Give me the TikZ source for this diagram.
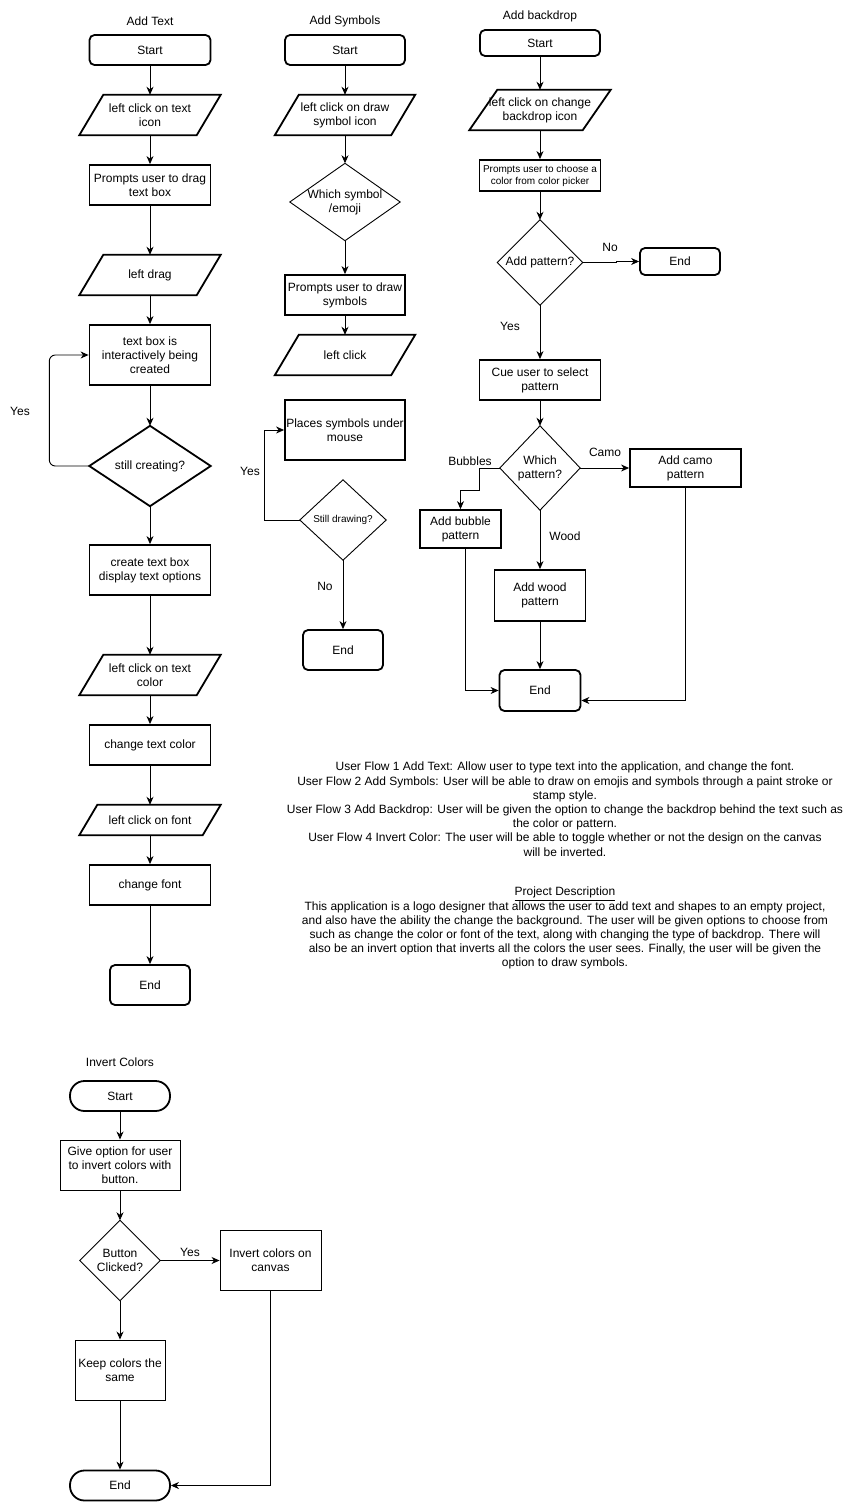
\documentclass[tikz,border=0pt]{standalone}
\usepackage{fontspec}
\setmainfont{Liberation Sans}
\usetikzlibrary{arrows.meta,calc}
\tikzset{
  ghost/.style={rectangle, inner sep=0pt, align=center},
  proc/.style={ghost, draw=black, line width=1.8pt},
  procthin/.style={ghost, draw=black, line width=0.9pt},
  term/.style={proc, rounded corners=5pt},
  stad/.style={proc, rounded corners=14.5pt},
  arr/.style={-{Stealth[length=8pt,width=7pt,inset=2.5pt]}, line width=0.9pt},
  lbl/.style={inner sep=0pt},
  every node/.style={font=\fontsize{12}{14}\selectfont}
}
\newcommand{\Para}[7]{%
  \node[ghost,minimum width=#4pt,minimum height=#5pt] (#1) at (#2,#3) {#7};
  \draw[line width=1.8pt,line join=miter] ([xshift=#6pt]#1.north west) -- (#1.north east) -- ([xshift=-#6pt]#1.south east) -- (#1.south west) -- cycle;}
\newcommand{\Dia}[7]{%
  \node[ghost,minimum width=#4pt,minimum height=#5pt] (#1) at (#2,#3) {#7};
  \draw[line width=#6pt,line join=miter] (#1.north) -- (#1.east) -- (#1.south) -- (#1.west) -- cycle;}
\begin{document}
\begin{tikzpicture}[x=1pt,y=-1pt]
\useasboundingbox (0,0) rectangle (851,1502);

% ---------------- Add Text ----------------
\node[lbl] (t1) at (150,21) {Add Text};
\node[term,minimum width=121pt,minimum height=30pt] (s1) at (150,50) {Start};
\Para{p1}{150}{115}{141}{40}{24}{left click on text\\icon}
\node[proc,minimum width=121pt,minimum height=40pt] (r1) at (150,185) {Prompts user to drag\\text box};
\Para{p2}{150}{275}{141}{40}{24}{left drag}
\node[proc,minimum width=121pt,minimum height=60pt] (r2) at (150,355) {text box is\\interactively being\\created};
\Dia{d1}{150}{466}{121}{80}{1.8}{still creating?}
\node[proc,minimum width=121pt,minimum height=50pt] (r3) at (150,570) {create text box\\display text options};
\Para{p3}{150}{675}{141}{40}{24}{left click on text\\color}
\node[proc,minimum width=121pt,minimum height=40pt] (r4) at (150,745) {change text color};
\Para{p4}{150}{820}{141}{30}{18}{left click on font}
\node[proc,minimum width=121pt,minimum height=40pt] (r5) at (150,885) {change font};
\node[term,minimum width=80pt,minimum height=40pt] (e1) at (150,985) {End};
\node[lbl] (y1) at (20,411) {Yes};

\draw[arr] (s1.south) -- (p1.north);
\draw[arr] (p1.south) -- (r1.north);
\draw[arr] (r1.south) -- (p2.north);
\draw[arr] (p2.south) -- (r2.north);
\draw[arr] (r2.south) -- (d1.north);
\draw[arr] (d1.south) -- (r3.north);
\draw[arr] (r3.south) -- (p3.north);
\draw[arr] (p3.south) -- (r4.north);
\draw[arr] (r4.south) -- (p4.north);
\draw[arr] (p4.south) -- (r5.north);
\draw[arr] (r5.south) -- (e1.north);
\draw[arr,rounded corners=6pt] (d1.west) -- ++(-40,0) |- (r2.west);

% ---------------- Add Symbols ----------------
\node[lbl] (t2) at (345,21) {Add Symbols};
\node[term,minimum width=120pt,minimum height=30pt] (s2) at (345,50) {Start};
\Para{p5}{345}{115}{140}{40}{24}{left click on draw\\symbol icon}
\Dia{d2}{345}{202}{110}{77}{0.9}{Which symbol\\/emoji}
\node[proc,minimum width=120pt,minimum height=40pt] (r6) at (345,295) {Prompts user to draw\\symbols};
\Para{p6}{345}{355}{140}{40}{24}{left click}
\node[proc,minimum width=120pt,minimum height=60pt] (r7) at (345,430) {Places symbols under\\mouse};
\Dia{d3}{343}{520}{86}{80}{0.9}{\fontsize{10}{12}\selectfont Still drawing?}
\node[term,minimum width=80pt,minimum height=40pt] (e2) at (343,650) {End};
\node[lbl] (y2) at (250,471) {Yes};
\node[lbl] (n2) at (325,586) {No};

\draw[arr] (s2.south) -- (p5.north);
\draw[arr] (p5.south) -- (d2.north);
\draw[arr] (d2.south) -- (r6.north);
\draw[arr] (r6.south) -- (p6.north);
\draw[arr] (d3.south) -- (e2.north);
\draw[arr] (d3.west) -- ++(-35,0) |- (r7.west);

% ---------------- Add backdrop ----------------
\node[lbl] (t3) at (540,16) {Add backdrop};
\node[term,minimum width=120pt,minimum height=26pt] (s3) at (540,43) {Start};
\Para{p7}{540}{110}{141}{40}{28}{left click on change\\backdrop icon}
\node[proc,minimum width=121pt,minimum height=31pt,font=\fontsize{10}{12}\selectfont] (r8) at (540,175.5) {Prompts user to choose a\\color from color picker};
\Dia{d4}{540}{262.5}{85}{85}{0.9}{Add pattern?}
\node[term,minimum width=80pt,minimum height=27pt] (e3) at (680,261.5) {End};
\node[proc,minimum width=121pt,minimum height=40pt] (r9) at (540,380) {Cue user to select\\pattern};
\Dia{d5}{540}{468}{80}{84}{0.9}{Which\\pattern?}
\node[proc,minimum width=111pt,minimum height=38pt] (r10) at (685.5,468) {Add camo\\pattern};
\node[proc,minimum width=81pt,minimum height=38pt] (r11) at (460.5,529) {Add bubble\\pattern};
\node[proc,minimum width=91pt,minimum height=51pt] (r12) at (540,595.5) {Add wood\\pattern};
\node[term,minimum width=81pt,minimum height=41pt] (e4) at (540,690.5) {End};
\node[lbl] (n3) at (610,247) {No};
\node[lbl] (y3) at (510,326) {Yes};
\node[lbl] (c3) at (605,452) {Camo};
\node[lbl] (b3) at (470,461) {Bubbles};
\node[lbl] (w3) at (565,536) {Wood};

\draw[arr] (s3.south) -- (p7.north);
\draw[arr] (p7.south) -- (r8.north);
\draw[arr] (r8.south) -- (d4.north);
\draw[arr] (d4.south) -- (r9.north);
\draw[arr] (d4.east) -- ++(34,0) |- (e3.west);
\draw[arr] (r9.south) -- (d5.north);
\draw[arr] (d5.east) -- (r10.west);
\draw[arr] (d5.west) -- ++(-20,0) -- ++(0,22) -| (r11.north);
\draw[arr] (d5.south) -- (r12.north);
\draw[arr] (r12.south) -- (e4.north);
\draw[arr] ([xshift=5pt]r11.south) |- (e4.west);
\draw[arr] (r10.south) |- ($(e4.east)+(0,10)$);

% ---------------- Description ----------------
\node[lbl,align=center,anchor=north,font=\fontsize{12}{14.2}\selectfont] (desc) at (565,762) {%
User Flow 1 Add Text: Allow user to type text into the application, and change the font.\\
User Flow 2 Add Symbols: User will be able to draw on emojis and symbols through a paint stroke or\\
stamp style.\\
User Flow 3 Add Backdrop: User will be given the option to change the backdrop behind the text such as\\
the color or pattern.\\
User Flow 4 Invert Color: The user will be able to toggle whether or not the design on the canvas\\
will be inverted.};
\node[lbl,align=center,anchor=north,font=\fontsize{12}{14.2}\selectfont] (proj) at (565,887) {%
\underline{Project Description}\\
This application is a logo designer that allows the user to add text and shapes to an empty project,\\
and also have the ability the change the background. The user will be given options to choose from\\
such as change the color or font of the text, along with changing the type of backdrop. There will\\
also be an invert option that inverts all the colors the user sees. Finally, the user will be given the\\
option to draw symbols.};

% ---------------- Invert Colors ----------------
\node[lbl] (t4) at (120,1062) {Invert Colors};
\node[stad,minimum width=100pt,minimum height=30pt] (s4) at (120,1096) {Start};
\node[procthin,minimum width=120pt,minimum height=50pt] (r13) at (120,1165) {Give option for user\\to invert colors with\\button.};
\Dia{d6}{120}{1260.5}{80}{80}{0.9}{Button\\Clicked?}
\node[procthin,minimum width=101pt,minimum height=60pt] (r14) at (270.5,1260.5) {Invert colors on\\canvas};
\node[procthin,minimum width=90pt,minimum height=60pt] (r15) at (120,1370) {Keep colors the\\same};
\node[stad,minimum width=100pt,minimum height=30pt] (e5) at (120,1485.5) {End};
\node[lbl] (y4) at (190,1252) {Yes};

\draw[arr] (s4.south) -- (r13.north);
\draw[arr] (r13.south) -- (d6.north);
\draw[arr] (d6.east) -- (r14.west);
\draw[arr] (d6.south) -- (r15.north);
\draw[arr] (r15.south) -- (e5.north);
\draw[arr] (r14.south) |- (e5.east);
\end{tikzpicture}
\end{document}
